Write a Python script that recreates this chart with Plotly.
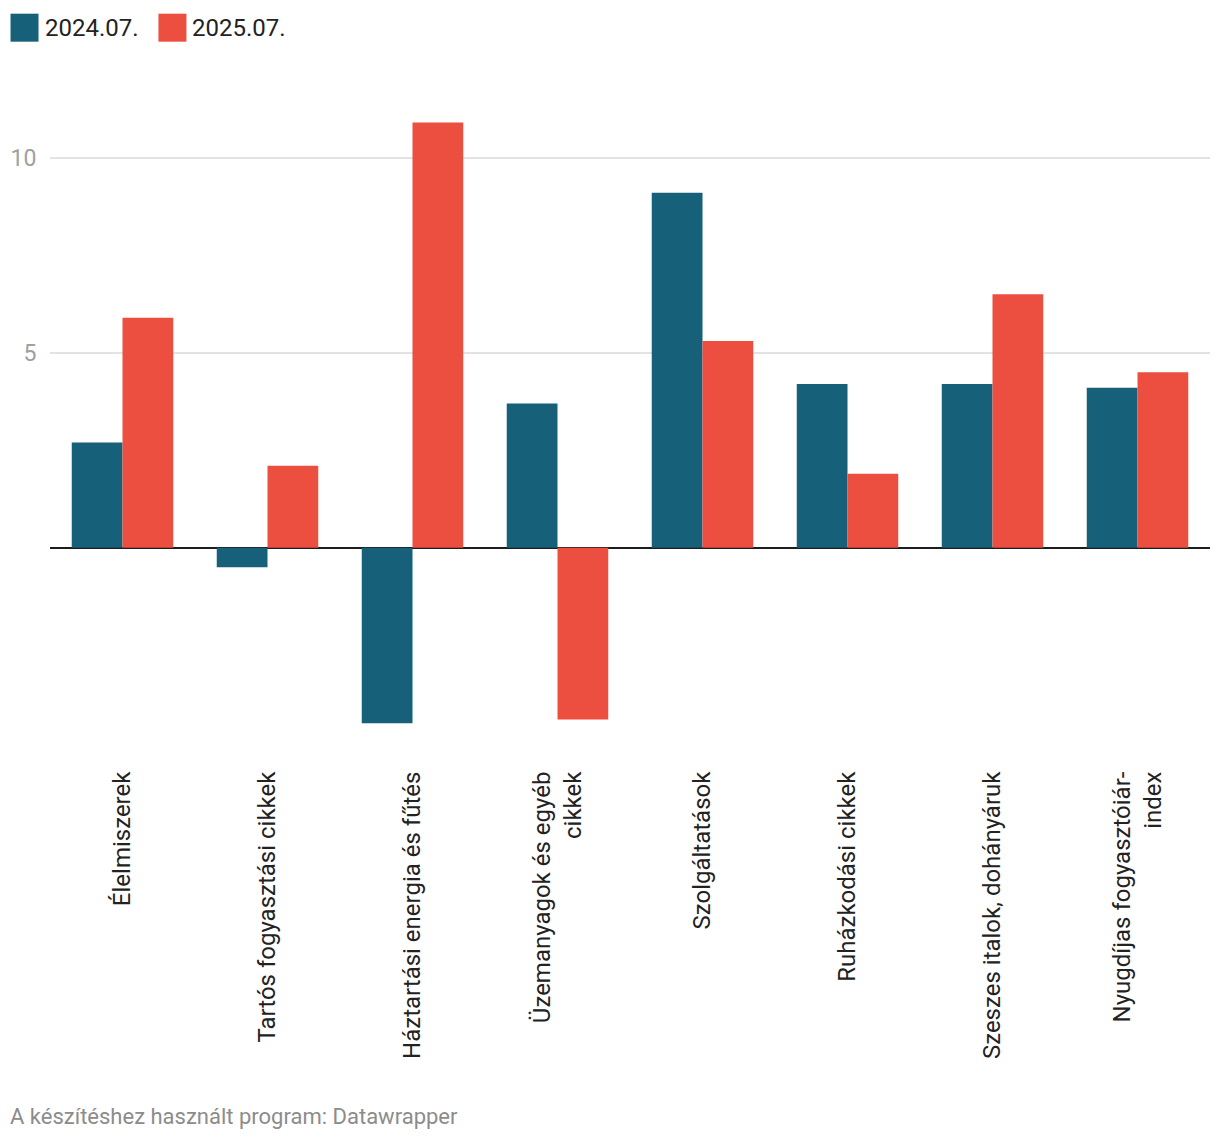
import plotly.graph_objects as go

categories = [
    "Élelmiszerek",
    "Tartós fogyasztási cikkek",
    "Háztartási energia és fűtés",
    "Üzemanyagok és egyéb<br>cikkek",
    "Szolgáltatások",
    "Ruházkodási cikkek",
    "Szeszes italok, dohányáruk",
    "Nyugdíjas fogyasztóiár-<br>index",
]
series_names = ["2024.07.", "2025.07."]
values_2024 = [2.7, -0.5, -4.5, 3.7, 9.1, 4.2, 4.2, 4.1]
values_2025 = [5.9, 2.1, 10.9, -4.4, 5.3, 1.9, 6.5, 4.5]
y_tickvals = [5, 10]
y_ticktext = ["5", "10"]
footer_text = "A készítéshez használt program: Datawrapper"

colors = ["#16607a", "#ec4e40"]

# page has 8px body margin; figure sized to fit window exactly
OFF = 8
W, H = 1220 - OFF, 1142 - OFF
# plot area geometry in page pixels
PLOT_LEFT_PAGE, PLOT_RIGHT_PAGE = 49.5, 1210
Y_MIN, Y_MAX = -4.8, 11.3
PX_PER_UNIT = 39.0
ZERO_PAGE = 548.0
TOP_PAGE = ZERO_PAGE - Y_MAX * PX_PER_UNIT
BOTTOM_PAGE = ZERO_PAGE - Y_MIN * PX_PER_UNIT

ML = PLOT_LEFT_PAGE - OFF
MR = W - (PLOT_RIGHT_PAGE - OFF)
MT = TOP_PAGE - OFF
MB = H - (BOTTOM_PAGE - OFF)
PW = W - ML - MR
PH = H - MT - MB


def px_x(px_page):
    return (px_page - OFF - ML) / PW


def px_y(py_page):
    return ((BOTTOM_PAGE - OFF) - (py_page - OFF)) / PH


FONT = "Roboto"

fig = go.Figure()
for name, vals, col in zip(series_names, [values_2024, values_2025], colors):
    fig.add_trace(go.Bar(
        x=categories, y=vals, name=name, marker=dict(color=col, line=dict(width=0)),
        showlegend=False,
    ))

shapes = []
annotations = []
legend_x = [10, 158]
for i, (name, col) in enumerate(zip(series_names, colors)):
    x0 = legend_x[i]
    shapes.append(dict(type="rect", xref="paper", yref="paper",
                       x0=px_x(x0), x1=px_x(x0 + 28), y0=px_y(42), y1=px_y(14),
                       fillcolor=col, line=dict(width=0)))
    annotations.append(dict(xref="paper", yref="paper", x=px_x(x0 + 32), y=px_y(28.5),
                            xanchor="left", yanchor="middle", showarrow=False,
                            text=name, font=dict(family=FONT, size=24, color="#222222")))

annotations.append(dict(xref="paper", yref="paper", x=px_x(7), y=px_y(1117),
                        xanchor="left", yanchor="middle", showarrow=False,
                        text=footer_text, font=dict(family=FONT, size=22, color="#8c8c8c")))

fig.update_layout(
    width=W, height=H,
    margin=dict(l=ML, r=MR, t=MT, b=MB, autoexpand=False),
    paper_bgcolor="white", plot_bgcolor="white",
    barmode="group", bargap=0.3, bargroupgap=0,
    font=dict(family=FONT, color="#333333"),
    shapes=shapes, annotations=annotations,
    showlegend=False,
)
fig.update_xaxes(
    tickangle=-90, tickfont=dict(family=FONT, size=24, color="#222222"),
    ticks="outside", ticklen=26, tickcolor="rgba(0,0,0,0)",
    showgrid=False, showline=False, zeroline=False,
)
fig.update_yaxes(
    range=[Y_MIN, Y_MAX], tickvals=y_tickvals, ticktext=y_ticktext,
    tickfont=dict(family=FONT, size=23, color="#a0a0a0"),
    ticks="outside", ticklen=8, tickcolor="rgba(0,0,0,0)",
    showgrid=True, gridcolor="#e3e3e3", gridwidth=2,
    zeroline=True, zerolinecolor="#1d1d1d", zerolinewidth=2,
    showline=False,
)

fig.write_html("out.html")
